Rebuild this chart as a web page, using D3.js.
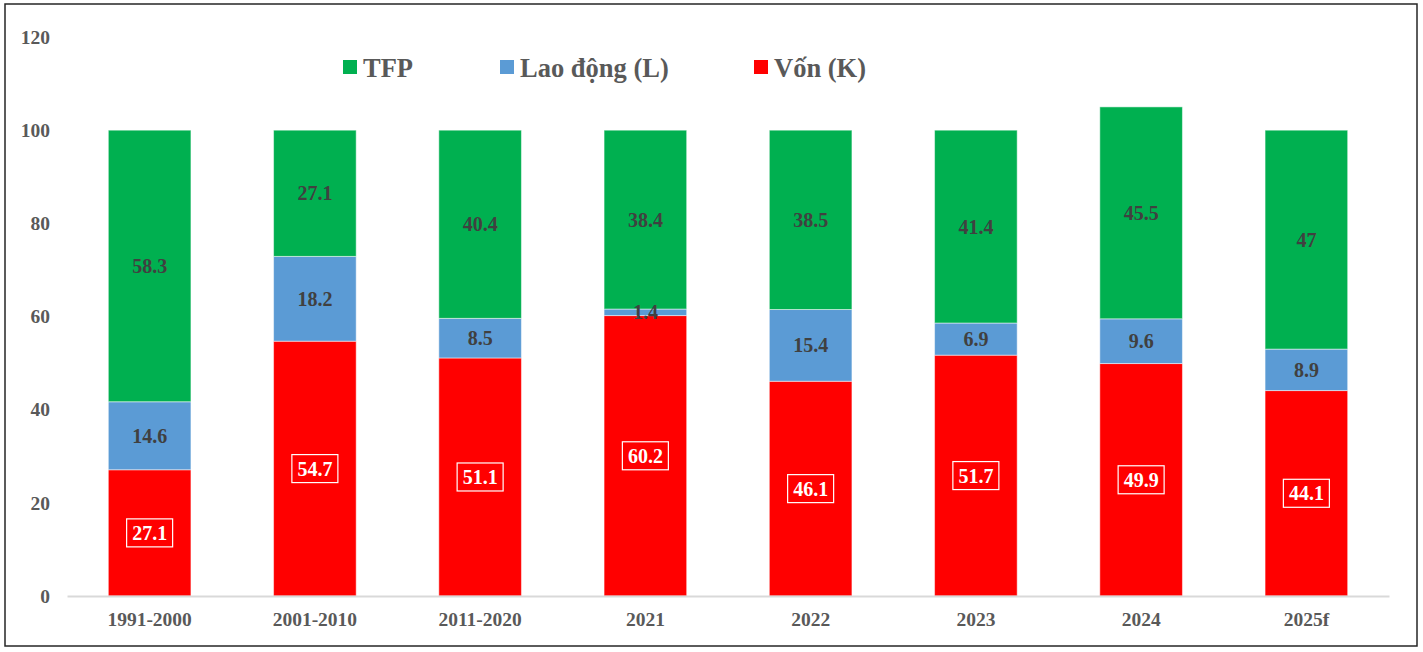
<!DOCTYPE html>
<html lang="vi">
<head>
<meta charset="UTF-8">
<title>Đóng góp vào tăng trưởng</title>
<script src="https://cdn.jsdelivr.net/npm/d3@7"></script>
<style>
    body{ margin:0; background:#fff; font-family:"Liberation Serif","Times New Roman",serif; }
    .frame{ fill:none; stroke:#262626; stroke-width:1.5; }
    .tick text{ font-weight:bold; fill:#595959; font-family:"Liberation Serif","Times New Roman",serif; }
    .val{ font-weight:bold; font-size:20px; fill:#404040; }
    .valK{ font-weight:bold; font-size:20px; fill:#fff; }
    .legend text{ font-weight:bold; font-size:26.5px; fill:#595959; }
</style>
</head>
<body>
<script>
    var categories = ['1991-2000','2001-2010','2011-2020','2021','2022','2023','2024','2025f'];
    var von  = [27.1, 54.7, 51.1, 60.2, 46.1, 51.7, 49.9, 44.1];
    var laoDong = [14.6, 18.2, 8.5, 1.4, 15.4, 6.9, 9.6, 8.9];
    var tfp  = [58.3, 27.1, 40.4, 38.4, 38.5, 41.4, 45.5, 47];
    var yTicks = [0, 20, 40, 60, 80, 100, 120];

    var series = [
        {key:'von', name:'Vốn (K)', color:'#ff0000', values:von},
        {key:'ld', name:'Lao động (L)', color:'#5b9bd5', values:laoDong},
        {key:'tfp', name:'TFP', color:'#00b050', values:tfp}
    ];

    var width = 1423, height = 652;
    var svg = d3.select('body').append('svg').attr('width', width).attr('height', height);

    svg.append('rect').attr('class','frame')
        .attr('x', 5).attr('y', 4).attr('width', 1412).attr('height', 642);

    var x = d3.scaleBand().domain(categories).range([67, 1389]).paddingInner(0.5).paddingOuter(0.25);
    var y = d3.scaleLinear().domain([0, 120]).range([596, 37]);

    // 堆叠数据
    var table = categories.map(function(c, i){
        var row = {cat:c};
        series.forEach(function(s){ row[s.key] = s.values[i]; });
        return row;
    });
    var stack = d3.stack().keys(series.map(function(s){ return s.key; }));
    var stacked = stack(table);

    // y 轴: 只有文字
    var yAxis = svg.append('g').attr('transform','translate(50,0)')
        .call(d3.axisLeft(y).tickValues(yTicks).tickSize(0).tickPadding(0));
    yAxis.attr('font-family', null);
    yAxis.select('.domain').remove();
    yAxis.selectAll('text').style('font-size','19.5px');

    var layers = svg.selectAll('.layer').data(stacked).enter().append('g')
        .attr('class','layer')
        .attr('fill', function(d, i){ return series[i].color; });

    layers.selectAll('rect').data(function(d){ return d; }).enter().append('rect')
        .attr('x', function(d){ return x(d.data.cat); })
        .attr('width', x.bandwidth())
        .attr('y', function(d){ return y(d[1]); })
        .attr('height', function(d){ return y(d[0]) - y(d[1]); })
        .attr('stroke', 'rgba(255,255,255,0.5)').attr('stroke-width', 1);

    // x 轴
    var xAxis = svg.append('g').attr('transform','translate(0,596)')
        .call(d3.axisBottom(x).tickSize(0).tickPadding(16));
    xAxis.attr('font-family', null);
    xAxis.select('.domain').attr('stroke','#d9d9d9').attr('stroke-width',2);
    xAxis.selectAll('text').style('font-size','19.5px');

    // 数值标签
    stacked.forEach(function(layer, li){
        var g = svg.append('g');
        layer.forEach(function(d, i){
            var cx = x(d.data.cat) + x.bandwidth() / 2;
            var cy = (y(d[0]) + y(d[1])) / 2;
            var v = series[li].values[i];
            if (li === 0) {
                var t = g.append('text').attr('class','valK')
                    .attr('x', cx).attr('y', cy).attr('text-anchor','middle').attr('dy','0.35em')
                    .text(v);
                var bb = t.node().getBBox();
                g.insert('rect', 'text').attr('x', bb.x - 5.5).attr('y', cy - 14)
                    .attr('width', bb.width + 11).attr('height', 28)
                    .attr('fill','none').attr('stroke','#fff').attr('stroke-width',1.2);
            } else {
                g.append('text').attr('class','val')
                    .attr('x', cx).attr('y', cy).attr('text-anchor','middle').attr('dy','0.35em')
                    .text(v);
            }
        });
    });

    // 图例
    var legendItems = [
        {s:series[2], x:343},
        {s:series[1], x:500},
        {s:series[0], x:754}
    ];
    var legend = svg.append('g').attr('class','legend');
    legendItems.forEach(function(it){
        legend.append('rect').attr('x', it.x).attr('y', 60).attr('width', 14).attr('height', 14)
            .attr('fill', it.s.color);
        legend.append('text').attr('x', it.x + 20).attr('y', 77).text(it.s.name);
    });
</script>
</body>
</html>
